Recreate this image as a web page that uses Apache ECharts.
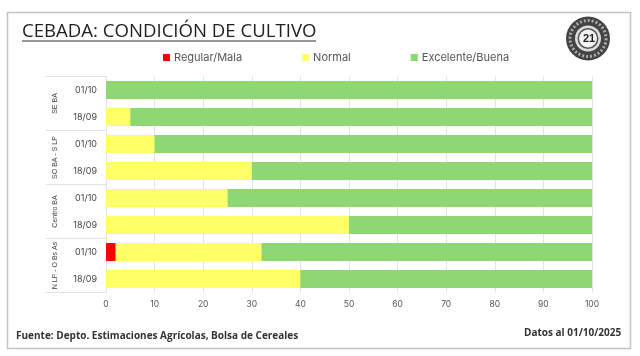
<!DOCTYPE html>
<html><head><meta charset="utf-8">
<style>html,body{margin:0;padding:0;background:#fff}#c{width:640px;height:356px}</style>
<script src="https://cdn.jsdelivr.net/npm/echarts@6/dist/echarts.min.js"></script>
</head><body><div id="c"></div>
<script>
const dates = ['01/10','18/09','01/10','18/09','01/10','18/09','01/10','18/09'];
const zones = ['SE BA','SO BA - S LP','Centro BA','N LP - O Bs As'];
const regularMala = [0,0,0,0,0,0,2,0];
const normal = [0,5,10,30,25,50,30,40];
const excelenteBuena = [100,95,90,70,75,50,68,60];
const xTicks = {min:0,max:100,interval:10};
const titleText = 'CEBADA: CONDICIÓN DE CULTIVO';
const sourceText = 'Fuente: Depto. Estimaciones Agrícolas, Bolsa de Cereales';
const dateText = 'Datos al 01/10/2025';

const chart = echarts.init(document.getElementById('c'), null, {renderer:'canvas'});
const font = 'Inter';
const mk = (name,data,color)=>({name,type:'bar',stack:'t',data,barWidth:18,xAxisIndex:0,yAxisIndex:0,
  itemStyle:{color},emphasis:{disabled:true}});
chart.setOption({
  animation:false,
  backgroundColor:'#fff',
  legend:{left:163,top:52,padding:0,itemWidth:7,itemHeight:7,itemGap:60,icon:'rect',
    textStyle:{fontFamily:font,fontSize:11,color:'#555',padding:[0,0,0,-1]},
    data:['Regular/Mala','Normal','Excelente/Buena']},
  grid:{left:106,right:48,top:76.5,bottom:63.5,containLabel:false},
  xAxis:{type:'value',min:xTicks.min,max:xTicks.max,interval:xTicks.interval,
    axisLine:{show:false},axisTick:{show:false},
    splitLine:{show:true,lineStyle:{color:'#e2e2e2',width:1}},
    axisLabel:{fontFamily:font,fontSize:8.5,color:'#555',margin:7}},
  yAxis:[
    {type:'category',inverse:true,data:dates,
     axisLine:{show:true,lineStyle:{color:'#e2e2e2'}},axisTick:{show:false},
     axisLabel:{fontFamily:font,fontSize:9,color:'#444',margin:9,interval:0}},
    {type:'category',inverse:true,position:'left',data:zones,
     axisLine:{show:false},
     axisTick:{show:true,length:60,interval:0,lineStyle:{color:'#e2e2e2'}},
     axisLabel:{fontFamily:'Liberation Sans Narrow, Liberation Sans',fontSize:7,color:'#444',rotate:90,margin:51,interval:0,align:'center',verticalAlign:'middle'}}
  ],
  series:[mk('Regular/Mala',regularMala,'#FF0000'),mk('Normal',normal,'#FFFF66'),mk('Excelente/Buena',excelenteBuena,'#8ED873')],
  graphic:[
    {type:'rect',shape:{x:7.5,y:12.5,width:623,height:336},style:{fill:'none',stroke:'#c4c4c4',lineWidth:1.5},z:-1},
    {type:'text',x:22,y:22,style:{text:titleText,font:'18.6px "Open Sans"',fill:'#222'}},
    {type:'rect',shape:{x:22,y:40.5,width:294,height:1},style:{fill:'#333'}},
    {type:'text',x:16,y:331.5,style:{text:sourceText,font:'bold 10px "Open Sans"',fill:'#333'}},
    {type:'text',x:524,y:328.5,style:{text:dateText,font:'bold 10px "Open Sans"',fill:'#333'}},
    {type:'circle',shape:{cx:588,cy:38.5,r:22},style:{fill:'#444'}},
    {type:'circle',shape:{cx:588,cy:38.5,r:18},style:{fill:'none',stroke:'#aaa',lineWidth:3,lineDash:[2,2]}},
    {type:'circle',shape:{cx:588,cy:38.5,r:13},style:{fill:'#ddd'}},
    {type:'circle',shape:{cx:588,cy:38.5,r:10.5},style:{fill:'#555'}},
    {type:'circle',shape:{cx:588,cy:38.5,r:9},style:{fill:'#f2f2f2'}},
    {type:'text',x:589,y:39,style:{text:'21',font:'bold 11px "Liberation Sans"',fill:'#222',align:'center',verticalAlign:'middle'}}
  ]
});
</script></body></html>
